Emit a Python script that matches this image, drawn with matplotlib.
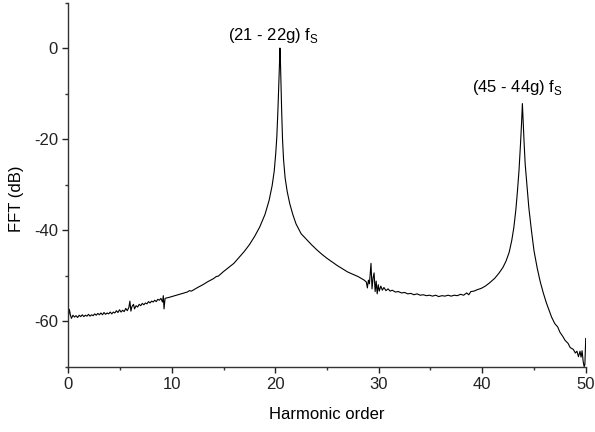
import matplotlib
matplotlib.use("Agg")
import matplotlib.pyplot as plt
from matplotlib.ticker import MultipleLocator

plt.rcParams['font.family'] = ['Liberation Sans', 'DejaVu Sans']
plt.rcParams['mathtext.fontset'] = 'custom'
plt.rcParams['mathtext.rm'] = 'Liberation Sans'
plt.rcParams['axes.unicode_minus'] = False

# harmonic order (x) and FFT level in dB (y)
harmonic = [
    0.0, 0.1, 0.2, 0.3, 0.45, 0.6, 0.75, 0.9, 1.05, 1.2, 1.35, 1.5, 1.65, 1.8, 1.95,
    2.1, 2.25, 2.4, 2.55, 2.7, 2.85, 3.0, 3.15, 3.3, 3.45, 3.6, 3.75, 3.9, 4.05, 4.2,
    4.35, 4.5, 4.65, 4.8, 4.95, 5.1, 5.25, 5.4, 5.55, 5.7, 5.85, 5.95, 6.05, 6.15, 6.3,
    6.4, 6.55, 6.7, 6.85, 7.0, 7.15, 7.3, 7.45, 7.6, 7.75, 7.9, 8.05, 8.2, 8.35, 8.5,
    8.65, 8.8, 8.95, 9.1, 9.18, 9.25, 9.35, 9.5, 9.7, 10.0, 10.3, 10.6, 10.9, 11.2,
    11.5, 11.7, 11.9, 12.2, 12.5, 13.0, 13.5, 14.0, 14.3, 14.5, 15.0, 15.5, 16.0, 16.5,
    17.0, 17.5, 18.0, 18.5, 19.0, 19.4, 19.7, 19.9, 20.05, 20.15, 20.25, 20.33, 20.4,
    20.45, 20.5, 20.55, 20.62, 20.7, 20.8, 20.95, 21.15, 21.4, 21.7, 22.0, 22.5, 23.0,
    23.5, 24.0, 24.5, 25.0, 25.5, 26.0, 26.5, 27.0, 27.5, 28.0, 28.3, 28.6, 28.8, 28.9,
    29.0, 29.1, 29.25, 29.35, 29.45, 29.55, 29.65, 29.75, 29.85, 29.95, 30.05, 30.2,
    30.35, 30.5, 30.7, 30.9, 31.1, 31.3, 31.6, 31.9, 32.2, 32.5, 32.8, 33.1, 33.4, 33.7,
    34.0, 34.3, 34.6, 34.9, 35.2, 35.5, 35.8, 36.1, 36.4, 36.7, 37.0, 37.3, 37.6, 37.9,
    38.2, 38.5, 38.7, 38.9, 39.2, 39.5, 39.9, 40.3, 40.7, 41.2, 41.6, 42.0, 42.3, 42.6,
    42.85, 43.05, 43.25, 43.4, 43.55, 43.7, 43.8, 43.88, 43.95, 44.05, 44.15, 44.3,
    44.5, 44.75, 45.0, 45.3, 45.6, 45.9, 46.2, 46.5, 46.7, 47.0, 47.3, 47.5, 47.8, 48.0,
    48.3, 48.5, 48.8, 49.0, 49.15, 49.3, 49.45, 49.55, 49.65, 49.75, 49.85, 49.92, 50.0,
]
fft_db = [
    -59.2, -57.4, -58.6, -59.4, -58.7, -59.1, -58.8, -59.2, -58.7, -59.0, -58.6, -59.0, -58.7, -58.9, -58.5,
    -58.9, -58.6, -58.8, -58.4, -58.7, -58.3, -58.6, -58.2, -58.6, -58.1, -58.5, -58.2, -58.4, -58.0, -58.4,
    -58.0, -58.2, -57.7, -58.1, -57.5, -58.0, -57.6, -57.9, -57.2, -57.7, -57.0, -55.6, -57.8, -56.8, -56.3,
    -57.3, -56.6, -56.9, -56.3, -56.6, -56.1, -56.4, -56.0, -56.2, -55.7, -56.0, -55.6, -55.8, -55.4, -55.7,
    -55.2, -55.4, -55.0, -55.8, -54.4, -57.3, -55.0, -54.9, -54.8, -54.6, -54.4, -54.2, -54.0, -53.8,
    -53.6, -53.3, -53.4, -53.0, -52.6, -52.0, -51.3, -50.7, -50.2, -50.1, -49.1, -48.2, -47.3, -46.0,
    -44.7, -43.2, -41.4, -39.3, -36.6, -33.5, -30.2, -27.0, -23.0, -19.5, -14.0, -9.0, -4.0,
    0.0, -3.0, -8.0, -14.0, -20.0, -24.5, -28.5, -31.5, -34.2, -36.6, -38.6, -40.8, -42.0,
    -43.2, -44.3, -45.3, -46.2, -47.0, -47.8, -48.5, -49.2, -49.7, -50.2, -50.6, -51.0, -51.4, -52.7,
    -51.0, -51.8, -47.3, -52.9, -50.5, -49.4, -53.5, -51.2, -54.0, -52.0, -53.4, -52.3,
    -53.2, -52.6, -53.3, -52.9, -53.4, -53.2, -53.6, -53.5, -53.8, -53.7, -54.0, -53.9, -54.2, -54.0,
    -54.3, -54.2, -54.4, -54.3, -54.5, -54.3, -54.6, -54.4, -54.5, -54.3, -54.5, -54.3, -54.4, -54.1,
    -54.3, -53.8, -54.2, -53.5, -53.4, -53.1, -52.8, -52.3, -51.6, -50.6, -49.5, -48.2, -46.8, -44.9,
    -42.3, -39.5, -35.5, -31.5, -27.0, -21.0, -16.5, -12.2, -16.0, -21.0, -25.5, -29.5,
    -35.0, -40.0, -44.5, -48.2, -51.3, -53.8, -56.0, -57.9, -59.1, -60.5, -61.3, -62.4, -63.4, -64.2,
    -64.9, -65.8, -66.2, -67.0, -66.6, -67.8, -66.6, -67.9, -66.5, -68.8, -70.0, -69.5, -63.8,
]

label_1 = r"(21 - 22g) f$_\mathregular{S}$"
label_2 = r"(45 - 44g) f$_\mathregular{S}$"

fig = plt.figure(figsize=(5.95, 4.32), dpi=100)
ax = fig.add_axes([0.1148, 0.1512, 0.8696, 0.843])

ax.plot(harmonic, fft_db, color='black', linewidth=0.8)

ax.set_xlim(0, 50)
ax.set_ylim(-70, 10)
ax.xaxis.set_major_locator(MultipleLocator(10))
ax.xaxis.set_minor_locator(MultipleLocator(5))
ax.yaxis.set_major_locator(MultipleLocator(20))
ax.yaxis.set_minor_locator(MultipleLocator(10))

for side in ['top', 'right']:
    ax.spines[side].set_visible(False)
for side in ['left', 'bottom']:
    ax.spines[side].set_linewidth(1.0)
    ax.spines[side].set_color('#333333')

ax.tick_params(which='major', direction='out', length=4.5, width=1.0, labelsize=12, colors='#222222', pad=3)
ax.tick_params(which='minor', direction='out', length=2.3, width=1.0, colors='#333333')

ax.set_xlabel('Harmonic order', fontsize=12, labelpad=11)
ax.set_ylabel('FFT (dB)', fontsize=12)
ax.yaxis.set_label_coords(-0.085, 0.46)

ax.text(19.8, 0.6, label_1, ha='center', va='bottom', fontsize=12)
ax.text(43.4, -10.7, label_2, ha='center', va='bottom', fontsize=12)

fig.savefig('out.png', dpi=100)
